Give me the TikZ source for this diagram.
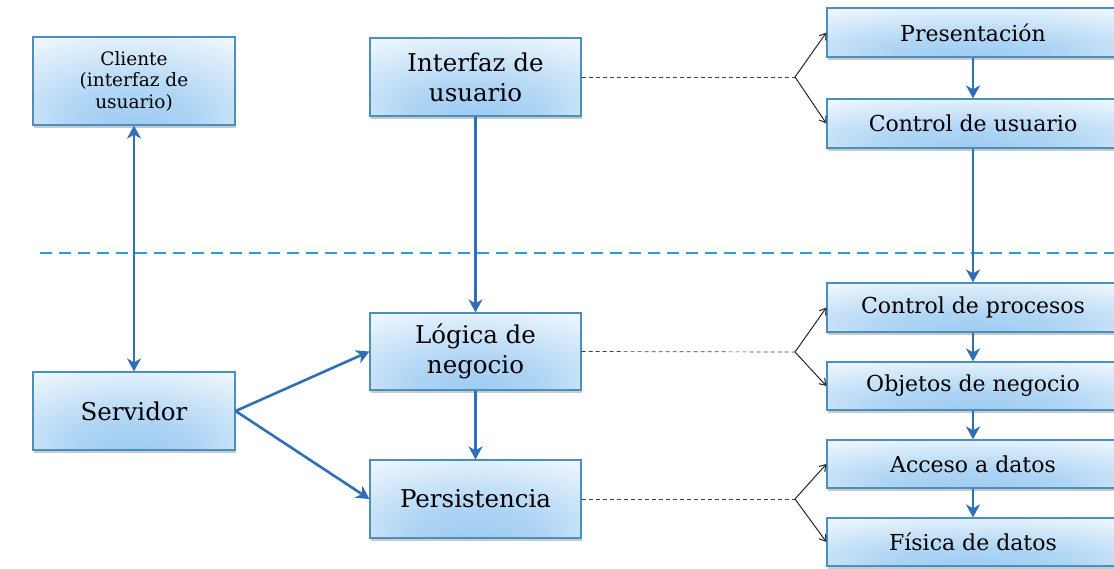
\documentclass[tikz,border=0pt]{standalone}
\usepackage{fontspec}
\setmainfont{DejaVu Serif}
\usetikzlibrary{arrows.meta,shadows}
\definecolor{boxblue}{HTML}{9CCBF2}
\definecolor{edgeblue}{HTML}{4A90BE}
\definecolor{arrblue}{HTML}{2E6FB5}
\definecolor{sepblue}{HTML}{2B9BD9}
\pgfdeclareradialshading{boxshade}{\pgfpoint{0bp}{-28bp}}{color(0bp)=(boxblue); color(16bp)=(boxblue!80!white); color(40bp)=(boxblue!18!white); color(60bp)=(white)}
\tikzset{
  box/.style={draw=edgeblue, line width=1.2pt, shading=boxshade, align=center, inner sep=2pt,
    drop shadow={shadow xshift=1pt, shadow yshift=-2.5pt, opacity=0.35, fill=black!60}},
  blarrow/.style={draw=arrblue, line width=2.6pt, -{Stealth[length=13pt,width=14pt,inset=4pt]}},
  dblarrow/.style={draw=arrblue, line width=2.6pt, {Stealth[length=13pt,width=14pt,inset=4pt]}-{Stealth[length=13pt,width=14pt,inset=4pt]}},
  gdash/.style={draw=black!75, line width=0.7pt, dash pattern=on 4pt off 3pt},
  brk/.style={draw=black!85, line width=1pt, -{Straight Barb[length=6pt,width=8pt]}},
  big/.style={font=\fontsize{24.5}{30}\selectfont},
  mid/.style={font=\fontsize{22}{24}\selectfont},
  small/.style={font=\fontsize{18.5}{21.5}\selectfont}
}
\begin{document}
\begin{tikzpicture}[x=1pt,y=-1pt]
\useasboundingbox (0,0) rectangle (1114,568);
\clip (0,0) rectangle (1114,568);
% separator
\draw[sepblue, line width=2.6pt, dash pattern=on 12pt off 7pt] (40,253) -- (1114,253);
% left column
\node[box, small, minimum width=202pt, minimum height=88pt] (cli) at (134,81) {Cliente\\(interfaz de\\usuario)};
\node[box, big, minimum width=202pt, minimum height=78pt] (srv) at (134,411) {Servidor};
% middle column
\node[box, big, minimum width=211pt, minimum height=78pt] (ui) at (475.5,77) {Interfaz de\\usuario};
\node[box, big, minimum width=211pt, minimum height=77pt] (log) at (475.5,351.5) {Lógica de\\negocio};
\node[box, big, minimum width=211pt, minimum height=78pt] (per) at (475.5,499) {Persistencia};
% right column
\node[box, mid, minimum width=292pt, minimum height=49pt] (pre) at (973,32.5) {Presentación};
\node[box, mid, minimum width=292pt, minimum height=49pt] (cu) at (973,123.5) {Control de usuario};
\node[box, mid, minimum width=292pt, minimum height=49pt] (cp) at (973,307.5) {Control de procesos};
\node[box, mid, minimum width=292pt, minimum height=48pt] (on) at (973,386) {Objetos de negocio};
\node[box, mid, minimum width=292pt, minimum height=48pt] (ad) at (973,464) {Acceso a datos};
\node[box, mid, minimum width=292pt, minimum height=48pt] (fd) at (973,542) {Física de datos};
% blue arrows
\draw[dblarrow] (cli.south) -- (srv.north);
\draw[blarrow] (srv.east) -- (log.west);
\draw[blarrow] (srv.east) -- (per.west);
\draw[blarrow] (ui.south) -- (log.north);
\draw[blarrow] (log.south) -- (per.north);
\draw[blarrow] (pre.south) -- (cu.north);
\draw[blarrow] (cu.south) -- (cp.north);
\draw[blarrow] (cp.south) -- (on.north);
\draw[blarrow] (on.south) -- (ad.north);
\draw[blarrow] (ad.south) -- (fd.north);
% dashed links and brackets
\coordinate (s1) at (795,77);
\coordinate (s2) at (795,352);
\coordinate (s3) at (795,499);
\draw[gdash] (ui.east) -- (s1);
\draw[gdash] (log.east) -- (s2);
\draw[gdash] (per.east) -- (s3);
\draw[brk] (s1) -- (pre.west);
\draw[brk] (s1) -- (cu.west);
\draw[brk] (s2) -- (cp.west);
\draw[brk] (s2) -- (on.west);
\draw[brk] (s3) -- (ad.west);
\draw[brk] (s3) -- (fd.west);
\end{tikzpicture}
\end{document}
